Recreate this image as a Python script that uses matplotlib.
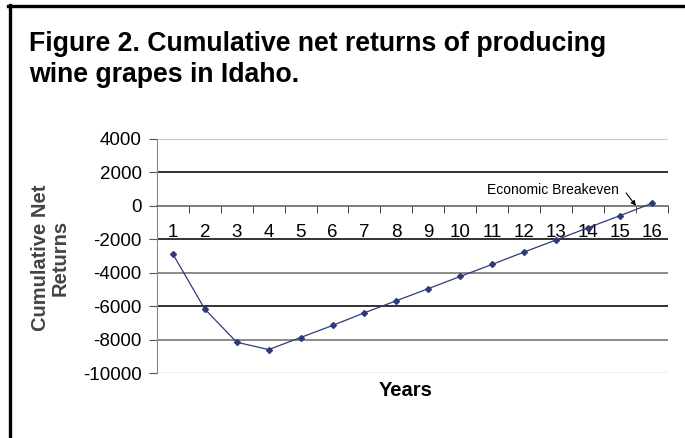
import matplotlib
matplotlib.use("Agg")
import matplotlib.pyplot as plt
from matplotlib.lines import Line2D

plt.rcParams['font.family'] = ['Liberation Sans', 'DejaVu Sans']

years = list(range(1, 17))
net_returns = [-2880, -6170, -8150, -8590, -7870, -7150, -6390, -5670,
               -4950, -4220, -3500, -2760, -2040, -1310, -590, 150]
y_ticks = [4000, 2000, 0, -2000, -4000, -6000, -8000, -10000]

title_lines = ["Figure 2. Cumulative net returns of producing", "wine grapes in Idaho."]
breakeven_label = "Economic Breakeven"
breakeven_year = 15.5

fig = plt.figure(figsize=(6.85, 4.38), dpi=100)
ax = fig.add_axes([0.229, 0.148, 0.746, 0.535])

# frame lines of the figure box (only top and left are visible)
fig.add_artist(Line2D([9.5 / 685, 9.5 / 685], [0, 1 - 5 / 438], color='black', lw=2.4,
                      transform=fig.transFigure))
fig.add_artist(Line2D([8 / 685, 1], [1 - 6 / 438, 1 - 6 / 438], color='black', lw=2.4,
                      transform=fig.transFigure))

fig.text(29 / 685, 1 - 51 / 438, title_lines[0], fontsize=19.2, fontweight='bold',
         va='baseline', ha='left')
fig.text(29 / 685, 1 - 82 / 438, title_lines[1], fontsize=19.2, fontweight='bold',
         va='baseline', ha='left')

# horizontal gridlines, Excel style
grid_colors = {4000: '#bbbbbb', 2000: '#111111', -2000: '#111111', -4000: '#777777',
               -6000: '#111111', -8000: '#777777', -10000: '#eeeeee'}
for v, c in grid_colors.items():
    ax.axhline(v, color=c, lw=1.2, zorder=1)

ax.plot(years, net_returns, color='#2e3a7a', lw=0.9, marker='D', markersize=3,
        zorder=3)

ax.set_xlim(0.5, 16.5)
ax.set_ylim(-10000, 4000)
ax.set_yticks(y_ticks)
ax.set_yticklabels([str(t) for t in y_ticks])
ax.tick_params(axis='y', labelsize=13.5, length=6, direction='out', color='#555555',
               pad=5)

# x axis at zero, labels in the middle of each category, ticks on boundaries
for s in ['top', 'right']:
    ax.spines[s].set_visible(False)
ax.spines['bottom'].set_position(('data', 0))
ax.spines['bottom'].set_color('#666666')
ax.spines['bottom'].set_linewidth(1.2)
ax.spines['left'].set_color('#888888')
ax.set_xticks(years)
ax.set_xticklabels([str(y) for y in years])
ax.set_xticks([y + 0.5 for y in range(0, 17)], minor=True)
ax.tick_params(axis='x', which='major', length=0, labelsize=13.5, pad=13)
ax.tick_params(axis='x', which='minor', length=5, direction='out', color='#222222')

ax.text(14.97, 950, breakeven_label, fontsize=10, ha='right', va='center')
ax.annotate("", xy=(breakeven_year, 0), xytext=(15.19, 770),
            arrowprops=dict(arrowstyle='-|>', color='black', lw=0.8,
                            mutation_scale=7, shrinkA=0, shrinkB=0))

fig.text(406 / 685, 1 - 390 / 438, "Years", fontsize=14.5, fontweight='bold',
         ha='center', va='center')
fig.text(50 / 685, 1 - 258 / 438, "Cumulative Net\nReturns", fontsize=14.5,
         fontweight='bold', color='#444444', rotation=90, ha='center', va='center',
         linespacing=1.05)

fig.savefig("out.png", dpi=100, facecolor='white')
